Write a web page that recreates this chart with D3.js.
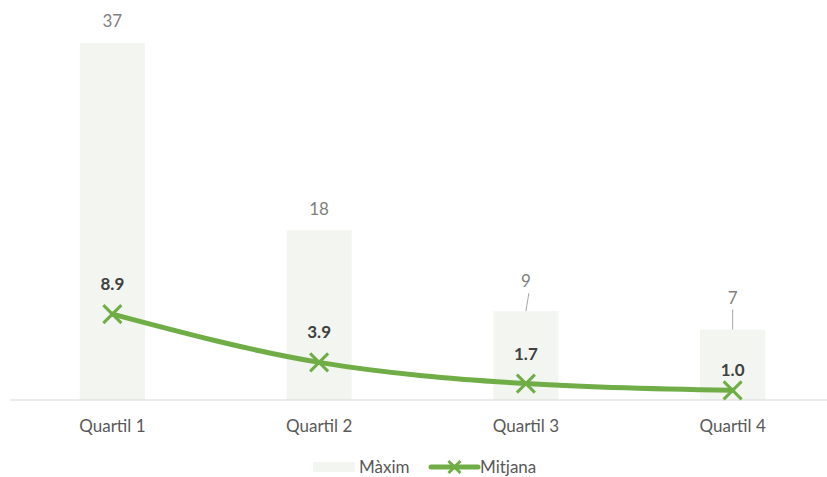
<!DOCTYPE html>
<html><head><meta charset="utf-8">
<script src="https://cdn.jsdelivr.net/npm/d3@7"></script>
<style>body{margin:0;background:#fff}svg{display:block}</style>
</head><body>
<svg id="c" width="827" height="477"></svg>
<script>
const categories = ["Quartil 1", "Quartil 2", "Quartil 3", "Quartil 4"];
const maxValues = [37, 17.6, 9.2, 7.3];
const meanValues = [8.9, 3.9, 1.7, 1.0];
const seriesNames = ["Màxim", "Mitjana"];

const W = 827, H = 477;
const svg = d3.select("#c");
const font = "Lato, 'Open Sans', sans-serif";
const green = "#70ad47";

const x = d3.scaleBand().domain(categories).range([9, 836]).paddingInner(0.685).paddingOuter(0.3425);
const y = d3.scaleLinear().domain([0, 37]).range([400, 43]);

// bars
svg.selectAll("rect.bar").data(maxValues).join("rect")
  .attr("class", "bar")
  .attr("x", (d, i) => x(categories[i]))
  .attr("y", d => y(d))
  .attr("width", x.bandwidth())
  .attr("height", d => y(0) - y(d))
  .attr("fill", "#f3f6f0");

// axis
const axis = svg.append("g").attr("transform", `translate(0,${y(0)})`)
  .call(d3.axisBottom(x).tickSize(0).tickPadding(20));
axis.select(".domain").attr("d", "M10,0H827").attr("stroke", "#d9d9d9").attr("stroke-width", 1);
axis.selectAll("text").attr("font-family", font).attr("font-size", 17).attr("fill", "#595959");

// bar labels (offsets above bar top; some labels moved with leader lines)
const barLabelOffset = [16, 15, 24, 26];
const leader = [false, false, true, true];
const cx = i => x(categories[i]) + x.bandwidth() / 2;
svg.selectAll("text.bl").data(maxValues).join("text")
  .attr("class", "bl")
  .attr("x", (d, i) => cx(i))
  .attr("y", (d, i) => y(d) - barLabelOffset[i])
  .attr("text-anchor", "middle")
  .attr("font-family", font).attr("font-size", 17).attr("fill", "#7f7f7f")
  .text(d => d3.format(".0f")(d));
maxValues.forEach((d, i) => {
  if (!leader[i]) return;
  const shift = i === 2 ? 3 : 0;
  svg.append("line")
    .attr("x1", cx(i) + shift).attr("y1", y(d) - barLabelOffset[i] + 6)
    .attr("x2", cx(i)).attr("y2", y(d))
    .attr("stroke", "#a6a6a6").attr("stroke-width", 1);
});

// line
const line = d3.line().x((d, i) => cx(i)).y(d => y(d)).curve(d3.curveMonotoneX);
svg.append("path").datum(meanValues)
  .attr("d", line).attr("fill", "none").attr("stroke", green).attr("stroke-width", 5)
  .attr("stroke-linecap", "round");

function drawX(g, px, py, r) {
  g.append("path")
    .attr("d", `M${px - r},${py - r}L${px + r},${py + r}M${px - r},${py + r}L${px + r},${py - r}`)
    .attr("stroke", green).attr("stroke-width", 3).attr("fill", "none");
}
meanValues.forEach((d, i) => drawX(svg, cx(i), y(d), 9));

// line labels
const meanLabelOffset = [24, 24, 24, 14];
svg.selectAll("text.ml").data(meanValues).join("text")
  .attr("class", "ml")
  .attr("x", (d, i) => cx(i))
  .attr("y", (d, i) => y(d) - meanLabelOffset[i])
  .attr("text-anchor", "middle")
  .attr("font-family", font).attr("font-size", 17).attr("font-weight", "bold").attr("fill", "#404040")
  .text(d => d3.format(".1f")(d));

// legend
const lg = svg.append("g");
lg.append("rect").attr("x", 313).attr("y", 462).attr("width", 42).attr("height", 10).attr("fill", "#f3f6f0");
lg.append("text").attr("x", 359).attr("y", 473).attr("font-family", font).attr("font-size", 17)
  .attr("fill", "#595959").text(seriesNames[0]);
lg.append("line").attr("x1", 431).attr("x2", 478).attr("y1", 467).attr("y2", 467)
  .attr("stroke", green).attr("stroke-width", 5).attr("stroke-linecap", "round");
drawX(lg, 454.5, 467, 6);
lg.append("text").attr("x", 480).attr("y", 473).attr("font-family", font).attr("font-size", 17)
  .attr("fill", "#595959").text(seriesNames[1]);
</script>
</body></html>
